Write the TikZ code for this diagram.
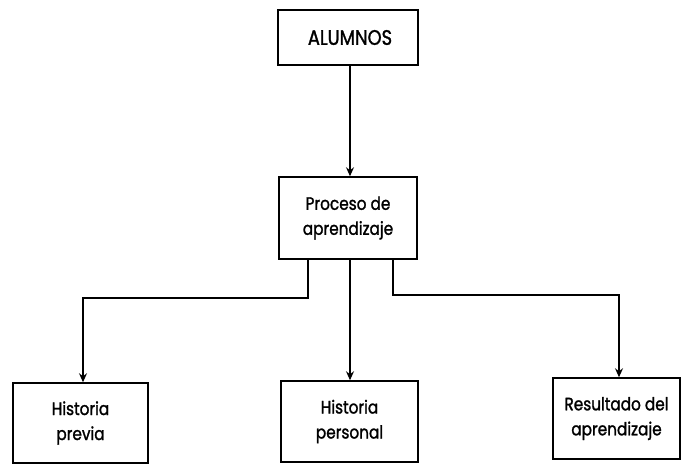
\documentclass[tikz,border=0pt]{standalone}
\usepackage{fontspec}
\setmainfont{Poppins}[FakeStretch=0.85,FakeBold=1.4]
\usetikzlibrary{arrows.meta}
\begin{document}
\begin{tikzpicture}[x=1pt,y=-1pt,
  box/.style={draw,line width=1.5pt,align=center,inner sep=0pt,font=\fontsize{18}{25}\selectfont},
  conn/.style={line width=1.3pt},
  arr/.style={conn,-{Stealth[length=9pt,width=8pt,inset=3pt]}}]
\useasboundingbox (0,0) rectangle (682,466);
\node[box,minimum width=140pt,minimum height=55pt,font=\fontsize{21}{25}\selectfont] (al) at (348,37.5) {\hspace{4pt}ALUMNOS};
\node[box,minimum width=138pt,minimum height=82pt] (pa) at (348,218) {Proceso de\\aprendizaje};
\node[box,minimum width=135pt,minimum height=80pt] (hp) at (80.5,423) {Historia\\previa};
\node[box,minimum width=137pt,minimum height=81pt] (hs) at (349.5,421.5) {Historia\\personal};
\node[box,minimum width=127pt,minimum height=81pt] (ra) at (616.5,418.5) {Resultado del\\aprendizaje};
\coordinate (jl) at (308,298);
\coordinate (jr) at (393,295);
\draw[arr] (al.south -| 350,0) -- (pa.north -| 350,0);
\draw[arr] (pa.south -| jl) -- (jl) -| ([xshift=2.5pt]hp.north);
\draw[arr] (pa.south -| 350,0) -- (hs.north -| 350,0);
\draw[arr] (pa.south -| jr) -- (jr) -| ([xshift=2.5pt]ra.north);
\end{tikzpicture}
\end{document}
